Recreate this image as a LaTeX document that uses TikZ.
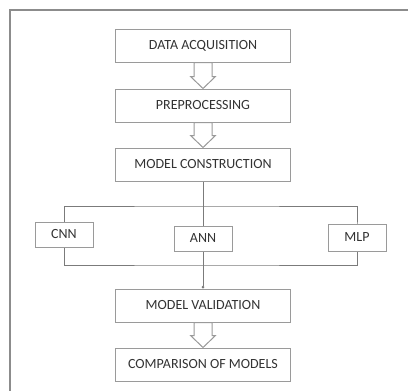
\documentclass[tikz,border=0pt]{standalone}
\usepackage{fontspec}
\setmainfont{Carlito}
\usepackage{tikz}
\usetikzlibrary{arrows.meta,positioning,backgrounds,calc}

\definecolor{boxline}{HTML}{9A9A9A}
\definecolor{boxtext}{HTML}{333333}
\definecolor{frameline}{HTML}{8C8C8C}

\tikzset{
  stage/.style={draw=boxline, line width=1pt, fill=white, text=boxtext,
    minimum width=175pt, minimum height=33pt, inner sep=0pt,
    font=\fontsize{14}{16}\selectfont},
  model/.style={stage, minimum width=58pt, minimum height=25pt},
  link/.style={draw=boxline!80!black, line width=0.8pt},
  hollow/.style={draw=boxline, line width=1pt, fill=white, line join=miter},
}

\begin{document}
\begin{tikzpicture}[x=1pt,y=-1pt]
\useasboundingbox (0,0) rectangle (408,391);
% outer frame, runs off the page
\draw[frameline, line width=2pt] (10,400) -- (10,10) -- (420,10);

\node[stage] (acq) at (203,45.5) {DATA ACQUISITION};
\node[stage, below=26pt of acq] (pre) {PREPROCESSING};
\node[stage, below=25pt of pre] (mc) {MODEL CONSTRUCTION};
\node[model, below=44pt of mc] (ann) {ANN};
\node[model] (cnn) at (64,234.5) {CNN};
\node[model, minimum height=27pt] (mlp) at (357,237.5) {MLP};
\node[stage, below=107pt of mc] (val) {MODEL VALIDATION};
\node[stage, below=25pt of val] (cmp) {COMPARISON OF MODELS};

\coordinate (brtop) at (203,206);
\coordinate (brbot) at (203,265);

\begin{scope}[on background layer]
\draw[link] (cnn.center) |- (brtop) -| (mlp.center) |- (brbot) -| (cnn.center);
\draw[link] (mc.south) -- (ann.north);
\draw[link, -{Circle[length=2.6pt]}] (ann.south) -- (val.north);
\end{scope}

% hollow block arrows
\foreach \a/\b in {acq/pre, pre/mc, val/cmp}
  \draw[hollow] ($(\a.south)+(-9,0)$) -- ($(\a.south)+(9,0)$)
    -- ($(\b.north)+(9,-12)$) -- ($(\b.north)+(12.5,-12)$) -- (\b.north)
    -- ($(\b.north)+(-12.5,-12)$) -- ($(\b.north)+(-9,-12)$) -- cycle;
\end{tikzpicture}
\end{document}
